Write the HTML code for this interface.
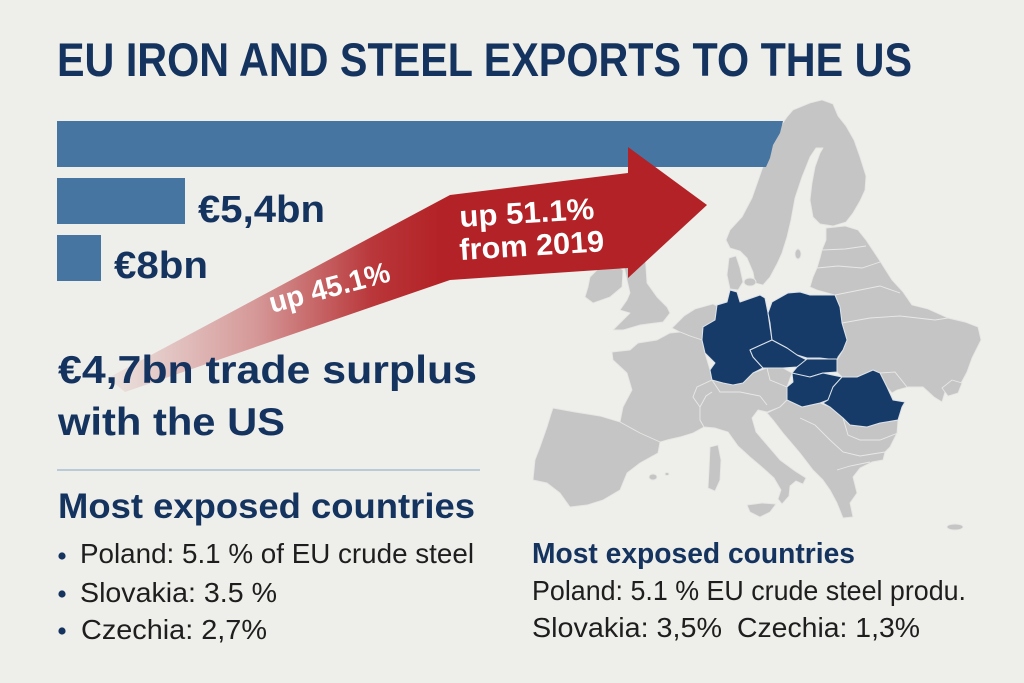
<!DOCTYPE html>
<html>
<head>
<meta charset="utf-8">
<style>
  html,body{margin:0;padding:0;background:#eeeeea;}
  svg{display:block;}
  text{font-family:"Liberation Sans", "DejaVu Sans", sans-serif;}
</style>
</head>
<body>
<svg width="1024" height="683" viewBox="0 0 1024 683" xmlns="http://www.w3.org/2000/svg">
  <defs>
    <linearGradient id="arrowGrad" gradientUnits="userSpaceOnUse" x1="105" y1="0" x2="440" y2="0">
      <stop offset="0" stop-color="#b32226" stop-opacity="0.04"/>
      <stop offset="0.45" stop-color="#b32226" stop-opacity="0.42"/>
      <stop offset="0.8" stop-color="#b32226" stop-opacity="0.9"/>
      <stop offset="1" stop-color="#b32226" stop-opacity="1"/>
    </linearGradient>
  </defs>

  <rect x="0" y="0" width="1024" height="683" fill="#eeeeea"/>

  <!-- ============ MAP (gray) ============ -->
  <g fill="#c5c5c5" stroke="#e6e6e4" stroke-width="0.9" stroke-linejoin="round">
    <!-- Scandinavia -->
    <path d="M793,110 L810,103 L822,100 L833,104 L838,116 L846,126 L854,140 L860,157 L866,176 L865,190 L860,201 L853,213 L846,222 L833,226 L820,224 L813,217 L810,200 L812,183 L815,167 L820,153 L823,148 L816,148 L810,157 L802,177 L795,198 L791,220 L787,237 L782,253 L777,264 L770,277 L763,285 L755,283 L753,272 L747,258 L740,251 L730,248 L726,240 L730,230 L742,217 L752,198 L759,178 L766,158 L773,140 L780,127 L787,117 Z"/>
    <!-- Denmark -->
    <path d="M729,258 L736,256 L740,268 L743,282 L738,290 L730,289 L727,275 Z"/>
    <ellipse cx="750" cy="282" rx="6" ry="4"/>
    <ellipse cx="798" cy="254" rx="3" ry="5"/>
    <!-- East: Baltics, Belarus, Russia, Ukraine, Moldova -->
    <path d="M826,228 L845,226 L858,230 L866,240 L878,258 L892,280 L903,292 L912,305 L928,309 L948,318 L965,322 L978,327 L981,340 L972,358 L967,372 L960,385 L950,388 L945,392 L942,402 L934,397 L923,387 L908,387 L897,390 L892,393 L887,387 L880,373 L873,370 L857,377 L842,377 L837,372 L837,360 L843,350 L847,340 L842,323 L840,307 L835,295 L817,290 L810,287 L813,277 L817,268 L820,258 L822,250 L826,240 Z"/>
    <path d="M942,388 L952,380 L962,383 L958,393 L948,396 Z"/>
    <!-- Benelux -->
    <path d="M672,328 L684,316 L695,309 L713,304 L717,306 L715,320 L703,327 L702,340 L690,336 L680,332 Z"/>
    <!-- France -->
    <path d="M612,352 L630,350 L638,343 L657,340 L670,333 L680,332 L690,336 L702,340 L705,353 L710,370 L712,380 L697,387 L693,397 L700,407 L700,420 L704,427 L693,433 L680,437 L667,440 L660,442 L640,434 L630,429 L620,422 L623,407 L632,390 L627,373 L613,360 Z"/>
    <!-- Iberia -->
    <path d="M553,408 L575,412 L600,416 L620,422 L640,433 L660,442 L658,453 L640,463 L627,473 L620,490 L603,500 L587,505 L570,507 L560,493 L547,483 L533,480 L535,460 L540,447 L547,427 L551,414 Z"/>
    <!-- Alps + Italy -->
    <path d="M697,387 L712,380 L723,383 L743,383 L753,373 L767,368 L783,368 L792,373 L787,387 L787,400 L780,407 L767,412 L758,410 L752,418 L756,432 L768,446 L780,460 L795,471 L806,478 L803,484 L796,481 L790,486 L789,496 L782,504 L778,499 L781,490 L774,478 L763,468 L750,457 L738,446 L728,432 L715,428 L704,427 L700,420 L700,407 L693,397 Z"/>
    <!-- Balkans -->
    <path d="M787,400 L802,407 L820,403 L830,407 L843,418 L850,425 L867,427 L880,423 L898,420 L897,433 L890,447 L885,452 L883,460 L872,462 L860,468 L853,477 L857,493 L850,503 L853,517 L843,518 L837,503 L830,490 L823,480 L813,470 L800,453 L783,433 L773,420 L767,413 L780,407 Z"/>
    <!-- Islands -->
    <path d="M747,505 L762,503 L776,504 L770,512 L760,517 L750,512 Z"/>
    <path d="M710,447 L718,445 L721,460 L720,480 L715,491 L708,488 L709,470 Z"/>
    <ellipse cx="653" cy="477" rx="4" ry="3"/>
    <ellipse cx="667" cy="474" rx="2" ry="1.5"/>
    <ellipse cx="955" cy="527" rx="8" ry="3"/>
    <!-- Britain & Ireland -->
    <path d="M625,252 L645,252 L647,283 L657,297 L667,307 L670,313 L663,322 L640,325 L623,330 L613,330 L620,323 L630,313 L620,310 L627,300 L630,293 L627,280 L624,266 Z"/>
    <path d="M590,277 L600,267 L613,263 L623,270 L622,287 L610,297 L593,303 L585,297 L588,287 Z"/>
  </g>

  <!-- ============ MAP (highlighted) ============ -->
  <g fill="#163b69" stroke="#dde2e8" stroke-width="1" stroke-linejoin="round">
    <!-- Germany -->
    <path d="M730,290 L737,292 L740,302 L760,295 L765,298 L768,313 L770,327 L772,340 L750,350 L753,357 L763,368 L753,373 L743,383 L733,385 L723,383 L712,380 L710,370 L715,363 L705,353 L702,340 L703,327 L715,320 L717,305 L727,302 Z"/>
    <!-- Poland -->
    <path d="M772,302 L788,293 L800,292 L810,295 L835,295 L840,307 L842,323 L847,340 L843,350 L838,357 L837,360 L820,358 L807,358 L797,355 L787,348 L772,340 L770,323 L768,313 Z"/>
    <!-- Czechia -->
    <path d="M750,350 L772,340 L787,348 L797,355 L807,360 L797,367 L783,368 L767,368 L763,368 L753,357 Z"/>
    <!-- Slovakia -->
    <path d="M807,359 L837,359 L837,372 L823,373 L810,377 L797,380 L792,373 L797,367 Z"/>
    <!-- Hungary -->
    <path d="M792,373 L810,377 L823,373 L842,377 L833,387 L828,400 L820,403 L802,407 L787,400 L787,387 L793,382 Z"/>
    <!-- Romania -->
    <path d="M842,377 L857,377 L873,370 L880,373 L887,387 L893,400 L905,402 L902,407 L898,420 L880,423 L867,427 L850,425 L843,418 L830,407 L823,403 L828,400 L833,387 Z"/>
  </g>

  <!-- internal borders on gray -->
  <g fill="none" stroke="#e8e8e6" stroke-width="0.9">
    <polyline points="822,250 845,249 866,246"/>
    <polyline points="817,268 838,266 862,268 880,262"/>
    <polyline points="835,295 860,290 880,286 900,293"/>
    <polyline points="842,323 870,318 900,316 935,320 948,318"/>
    <polyline points="880,373 895,372 907,387"/>
    <polyline points="712,380 720,392 740,392 760,396 767,405"/>
    <polyline points="767,368 770,380 787,387"/>
    <polyline points="700,407 706,396 712,392"/>
    <polyline points="800,418 815,425 830,440 843,452 860,456 885,452"/>
    <polyline points="843,418 848,435 860,440 880,440 898,433"/>
    <polyline points="837,470 850,466 870,462"/>
  </g>

  <!-- ============ BARS ============ -->
  <polygon points="57,121 783,121 780,133 773,145 770,158 766,167 57,167" fill="#4675a2"/>
  <rect x="57" y="178" width="128" height="46" fill="#4675a2"/>
  <rect x="57" y="235" width="44" height="46" fill="#4675a2"/>

  <!-- ============ ARROW ============ -->
  <polygon points="450,195 628,173 628,147 707,205 628,278 628,268 450,280 125,392 108,378" fill="url(#arrowGrad)"/>

  <!-- ============ TEXT ============ -->
  <text x="57" y="76" font-size="47" font-weight="bold" fill="#15335f" textLength="855" lengthAdjust="spacingAndGlyphs">EU IRON AND STEEL EXPORTS TO THE US</text>

  <text x="198" y="222" font-size="38" font-weight="bold" fill="#15335f" textLength="127" lengthAdjust="spacingAndGlyphs">€5,4bn</text>
  <text x="114" y="278" font-size="38" font-weight="bold" fill="#15335f" textLength="94" lengthAdjust="spacingAndGlyphs">€8bn</text>

  <text x="460" y="227" font-size="30" font-weight="bold" fill="#ffffff" textLength="135" lengthAdjust="spacingAndGlyphs" transform="rotate(-3.5 460 227)">up 51.1%</text>
  <text x="460" y="260" font-size="30" font-weight="bold" fill="#ffffff" textLength="145" lengthAdjust="spacingAndGlyphs" transform="rotate(-3.5 460 260)">from 2019</text>
  <text x="272" y="313" font-size="29" font-weight="bold" fill="#ffffff" textLength="124" lengthAdjust="spacingAndGlyphs" transform="rotate(-15 272 313)">up 45.1%</text>

  <text x="58" y="383" font-size="39" font-weight="bold" fill="#15335f" textLength="419" lengthAdjust="spacingAndGlyphs">€4,7bn trade surplus</text>
  <text x="58" y="435" font-size="39" font-weight="bold" fill="#15335f" textLength="227" lengthAdjust="spacingAndGlyphs">with the US</text>

  <line x1="57" y1="470" x2="480" y2="470" stroke="#a9bdd0" stroke-width="1.5"/>

  <text x="58" y="518" font-size="35" font-weight="bold" fill="#15335f" textLength="417" lengthAdjust="spacingAndGlyphs">Most exposed countries</text>

  <circle cx="62" cy="556" r="3.6" fill="#15335f"/>
  <text x="80" y="563" font-size="28" fill="#1e1e1e" textLength="394" lengthAdjust="spacingAndGlyphs">Poland: 5.1 % of EU crude steel</text>
  <circle cx="62" cy="594" r="3.6" fill="#15335f"/>
  <text x="80" y="602" font-size="28" fill="#1e1e1e" textLength="197" lengthAdjust="spacingAndGlyphs">Slovakia: 3.5 %</text>
  <circle cx="62" cy="631" r="3.6" fill="#15335f"/>
  <text x="81" y="639" font-size="28" fill="#1e1e1e" textLength="186" lengthAdjust="spacingAndGlyphs">Czechia: 2,7%</text>

  <text x="532" y="563" font-size="29" font-weight="bold" fill="#15335f" textLength="323" lengthAdjust="spacingAndGlyphs">Most exposed countries</text>
  <text x="532" y="600" font-size="28" fill="#1e1e1e" textLength="434" lengthAdjust="spacingAndGlyphs">Poland: 5.1 % EU crude steel produ.</text>
  <text x="532" y="637" font-size="28" fill="#1e1e1e" textLength="190" lengthAdjust="spacingAndGlyphs">Slovakia: 3,5%</text>
  <text x="737" y="637" font-size="28" fill="#1e1e1e" textLength="183" lengthAdjust="spacingAndGlyphs">Czechia: 1,3%</text>
</svg>
</body>
</html>
